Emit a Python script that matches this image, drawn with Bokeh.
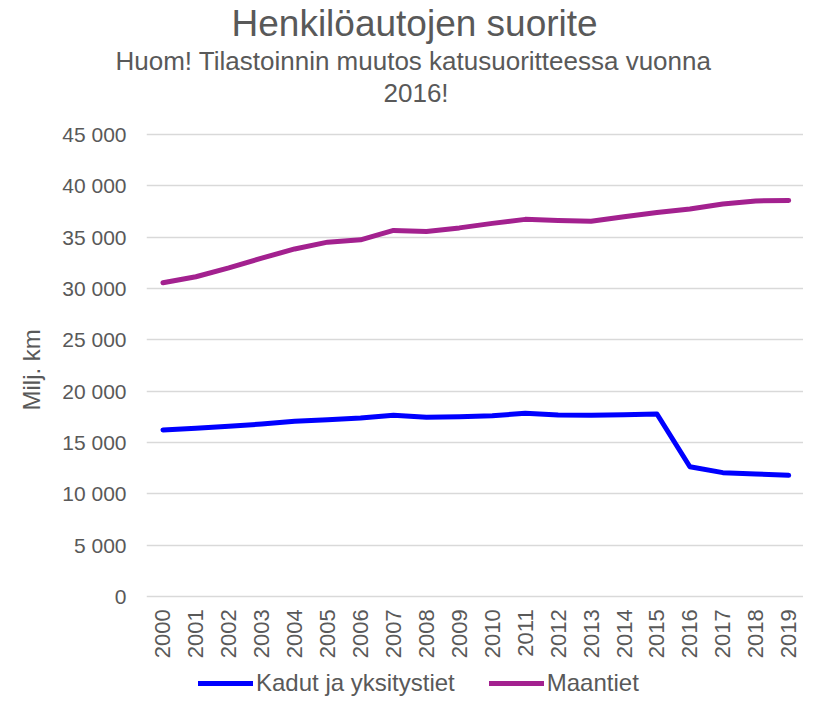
import math
from bokeh.plotting import figure
from bokeh.models import (Range1d, FixedTicker, Title, Legend, LegendItem, ColumnDataSource,
                          LinearAxis)
from bokeh.embed import file_html
from bokeh.resources import INLINE

# ---- data ----
years = [2000, 2001, 2002, 2003, 2004, 2005, 2006, 2007, 2008, 2009,
         2010, 2011, 2012, 2013, 2014, 2015, 2016, 2017, 2018, 2019]
kadut = [16210, 16370, 16570, 16790, 17050, 17210, 17380, 17640, 17440, 17500,
         17600, 17830, 17670, 17640, 17700, 17770, 12630, 12050, 11920, 11790]
maantiet = [30550, 31140, 32000, 32950, 33850, 34510, 34740, 35650, 35550, 35900,
            36340, 36730, 36630, 36540, 36990, 37400, 37740, 38230, 38530, 38560]
series_names = ["Kadut ja yksitystiet", "Maantiet"]
y_ticks = [0, 5000, 10000, 15000, 20000, 25000, 30000, 35000, 40000, 45000]
y_tick_labels = ["0", "5 000", "10 000", "15 000", "20 000", "25 000",
                 "30 000", "35 000", "40 000", "45 000"]
title_text = "Henkilöautojen suorite"
subtitle_lines = ["Huom! Tilastoinnin muutos katusuoritteessa vuonna", "2016!"]
y_axis_title = "Milj. km"

FONT = "Liberation Sans"
GREY = "#595959"

src = ColumnDataSource(dict(year=years, kadut=kadut, maantiet=maantiet))

# frame spans from the top margin to the canvas bottom; the value 0 sits
# about 101 px above the bottom so that axis labels and legend fit inside the frame
p = figure(width=803, height=697, output_backend="svg", toolbar_location=None,
           x_range=Range1d(1999.5, 2019.45), y_range=Range1d(-9859, 45195),
           x_axis_location=None,
           min_border_left=145, min_border_right=0, min_border_top=0,
           min_border_bottom=0)
p.title = None
p.outline_line_color = None
p.background_fill_color = "white"

r1 = p.line("year", "kadut", source=src, line_color="#0000FF", line_width=5,
            line_cap="round", line_join="round")
r2 = p.line("year", "maantiet", source=src, line_color="#A3218F", line_width=5,
            line_cap="round", line_join="round")

# x axis pinned at y = 0
xaxis = LinearAxis(fixed_location=0, ticker=FixedTicker(ticks=years),
                   major_label_orientation=math.pi / 2,
                   axis_line_color=None, major_tick_line_color=None,
                   minor_tick_line_color=None, major_tick_out=0, major_tick_in=0,
                   major_label_standoff=13, major_label_text_font=FONT,
                   major_label_text_font_size="22px", major_label_text_color=GREY)
p.add_layout(xaxis, "below")

p.yaxis.ticker = FixedTicker(ticks=y_ticks)
p.yaxis.major_label_overrides = {t: l for t, l in zip(y_ticks, y_tick_labels)}
p.yaxis.axis_line_color = None
p.yaxis.major_tick_line_color = None
p.yaxis.minor_tick_line_color = None
p.yaxis.major_tick_out = 0
p.yaxis.major_tick_in = 0
p.yaxis.major_label_standoff = 20
p.yaxis.major_label_text_font = FONT
p.yaxis.major_label_text_font_size = "21px"
p.yaxis.major_label_text_color = GREY

p.xgrid.grid_line_color = None
p.ygrid.grid_line_color = "#D9D9D9"
p.ygrid.grid_line_width = 1.5

# y axis title, placed beside the value labels
p.add_layout(Title(text=y_axis_title, align="left", offset=287, standoff=30,
                   text_font=FONT, text_font_size="24px", text_font_style="normal",
                   text_color=GREY), "left")

# titles: stacked above, first added is closest to the plot area
p.add_layout(Title(text=" ", text_font_size="10px", standoff=12), "above")  # spacer
p.add_layout(Title(text=subtitle_lines[1], align="left", offset=237, standoff=0,
                   text_font=FONT, text_font_size="26px", text_font_style="normal",
                   text_color=GREY), "above")
p.add_layout(Title(text=subtitle_lines[0], align="left", offset=-31, standoff=0,
                   text_font=FONT, text_font_size="26px", text_font_style="normal",
                   text_color=GREY), "above")
p.add_layout(Title(text=title_text, align="left", offset=85, standoff=0,
                   text_font=FONT, text_font_size="37px", text_font_style="normal",
                   text_color=GREY), "above")

legend = Legend(items=[LegendItem(label=series_names[0], renderers=[r1]),
                       LegendItem(label=series_names[1], renderers=[r2])],
                location=(52, 0), orientation="horizontal",
                glyph_width=55, glyph_height=20, label_standoff=3, spacing=34,
                padding=0, margin=0, border_line_color=None,
                background_fill_alpha=0, label_text_font=FONT,
                label_text_font_size="24px", label_text_color=GREY)
p.add_layout(legend)

open("out.html", "w").write(file_html(p, INLINE))
